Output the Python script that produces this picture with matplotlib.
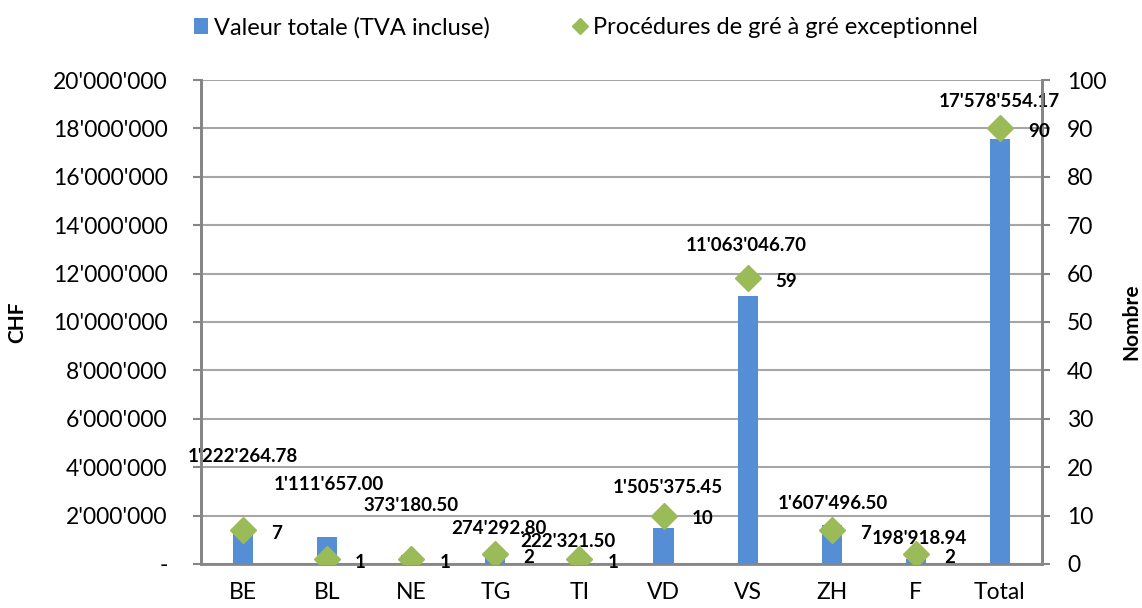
import matplotlib.pyplot as plt

plt.rcParams['font.family'] = ['Lato', 'DejaVu Sans']

# data
categories = ['BE', 'BL', 'NE', 'TG', 'TI', 'VD', 'VS', 'ZH', 'F', 'Total']
valeur_totale = [1222264.78, 1111657.00, 373180.50, 274292.80, 222321.50,
                 1505375.45, 11063046.70, 1607496.50, 198918.94, 17578554.17]
procedures = [7, 1, 1, 2, 1, 10, 59, 7, 2, 90]
left_ticks = [0, 2000000, 4000000, 6000000, 8000000, 10000000,
              12000000, 14000000, 16000000, 18000000, 20000000]
left_tick_labels = ['-', "2'000'000", "4'000'000", "6'000'000", "8'000'000", "10'000'000",
                    "12'000'000", "14'000'000", "16'000'000", "18'000'000", "20'000'000"]
right_ticks = [0, 10, 20, 30, 40, 50, 60, 70, 80, 90, 100]

# label placement (pixel offsets from bar top, as in the Excel original)
bar_label_offsets = [(0, 78), (2, 53), (0, 49), (4, 29), (-12, 17),
                     (4, 40), (-1, 51), (1, 22), (4, 21), (-1, 37)]

BLUE = '#558ED5'
GREEN = '#9BBB59'
GRID = '#A6A6A6'
AXIS = '#868686'


def fmt_chf(v):
    s = '{:,.2f}'.format(v)
    return s.replace(',', "'")


fig = plt.figure(figsize=(11.42, 6.08), dpi=100)
ax = fig.add_axes([0.176, 0.0724, 0.7364, 0.796])
ax2 = ax.twinx()

x = list(range(len(categories)))
ax.bar(x, valeur_totale, width=0.24, color=BLUE, zorder=2,
       label='Valeur totale (TVA incluse)')
ax.set_ylim(0, 20000000)
ax.set_xlim(-0.5, len(categories) - 0.5)
ax.set_yticks(left_ticks)
ax.set_yticklabels(left_tick_labels)
ax.set_xticks(x)
ax.set_xticklabels(categories)
ax.yaxis.grid(True, color=GRID, linewidth=1.5, zorder=0)
ax.set_axisbelow(True)

ax2.plot(x, procedures, linestyle='none', marker='D', markersize=13,
         color=GREEN, zorder=3, label='Procédures de gré à gré exceptionnel')
ax2.set_ylim(0, 100)
ax2.set_yticks(right_ticks)

for a in (ax, ax2):
    a.spines['top'].set_visible(False)
    for side in ['left', 'right', 'bottom']:
        a.spines[side].set_color(AXIS)
        a.spines[side].set_linewidth(2)
    a.tick_params(axis='y', colors='black', labelsize=16.5, length=6, width=1.5,
                  color=AXIS)
ax.tick_params(axis='y', pad=18)
ax2.tick_params(axis='y', pad=12)
ax.tick_params(axis='x', length=0, labelsize=16.5, pad=13)
ax2.spines['bottom'].set_visible(False)

# data labels
for i, v in enumerate(valeur_totale):
    dx, dy = bar_label_offsets[i]
    ax.annotate(fmt_chf(v), (x[i], v), xytext=(dx, dy), textcoords='offset pixels',
                ha='center', va='center', fontsize=13.5, fontweight='bold', zorder=5)
for i, n in enumerate(procedures):
    ax2.annotate(str(n), (x[i], n), xytext=(28, -3), textcoords='offset pixels',
                 ha='left', va='center', fontsize=13.5, fontweight='bold', zorder=5)

ax.set_ylabel('CHF', fontsize=15, fontweight='bold')
ax.yaxis.set_label_coords(-0.207, 0.5)
ax2.set_ylabel('Nombre', fontsize=15, fontweight='bold')
ax2.yaxis.set_label_coords(1.094, 0.5)

h1, l1 = ax.get_legend_handles_labels()
h2, l2 = ax2.get_legend_handles_labels()
leg = fig.legend(h1 + h2, l1 + l2, loc='center', bbox_to_anchor=(0.513, 0.955),
                 ncol=2, frameon=False, fontsize=17, handlelength=0.6,
                 handletextpad=0.25, columnspacing=3.5, markerscale=0.6)

fig.savefig('out.png', dpi=100)
